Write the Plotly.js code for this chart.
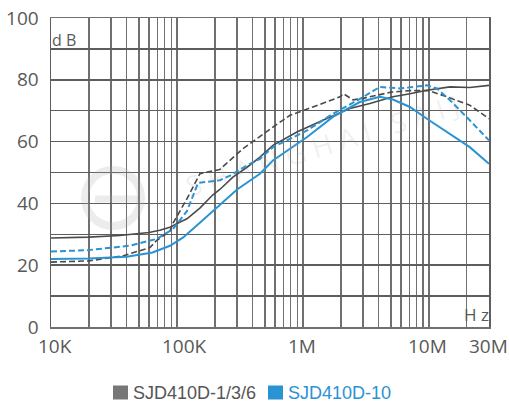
<!DOCTYPE html>
<html>
<head>
<meta charset="utf-8">
<script src="https://cdn.plot.ly/plotly-3.0.1.min.js"></script>
<style>html,body{margin:0;padding:0;background:#fff;}#chart{width:509px;height:406px;}</style>
</head>
<body>
<div id="chart"></div>
<script>
// ---- data ----
const seriesNames = ["SJD410D-1/3/6", "SJD410D-10"];

const darkSolidHz = [1e4, 2e4, 3.5e4, 4.2e4, 6e4, 7.3e4, 8.8e4, 1.06e5, 1.2e5, 1.52e5, 1.93e5, 2.19e5, 2.78e5, 3.6e5, 4.56e5, 5.78e5, 8.96e5, 1.44e6, 2.36e6, 3.4e6, 5.18e6, 7.07e6, 9.64e6, 1.47e7, 2.11e7, 3e7];
const darkSolidDb = [28.8, 29.1, 29.6, 30.0, 30.6, 31.3, 32.3, 34.0, 35.0, 38.5, 42.8, 44.5, 48.5, 51.7, 55.0, 58.8, 63.1, 66.9, 70.7, 72.3, 74.5, 75.5, 76.6, 77.7, 77.5, 78.2];

const darkDashHz = [1e4, 2e4, 3.7e4, 6.1e4, 6.9e4, 8.8e4, 9.3e4, 1.2e5, 1.52e5, 1.8e5, 2.19e5, 3e5, 3.34e5, 5.78e5, 7.89e5, 1.2e6, 1.97e6, 2.1e6, 2.5e6, 3e6, 5e6, 7e6, 1e7, 1.39e7, 2.11e7, 3e7];
const darkDashDb = [21.0, 21.4, 23.0, 25.7, 28.0, 31.0, 33.6, 41.5, 49.6, 50.3, 51.0, 56.0, 57.7, 64.7, 68.5, 71.2, 74.5, 75.5, 73.5, 74.0, 76.0, 76.5, 76.5, 74.5, 71.8, 67.4];

const blueSolidHz = [1e4, 2e4, 4e4, 6.4e4, 8.8e4, 1.12e5, 1.52e5, 2.08e5, 3e5, 4.56e5, 5.78e5, 1.08e6, 1.73e6, 2.83e6, 4.08e6, 5.18e6, 7.07e6, 9.64e6, 1.39e7, 2.11e7, 3e7];
const blueSolidDb = [22.0, 22.2, 22.7, 24.1, 26.3, 29.0, 33.7, 38.6, 44.5, 49.6, 53.9, 61.5, 68.0, 72.8, 74.5, 73.6, 71.2, 67.4, 63.1, 58.2, 52.8];

const blueDashHz = [1e4, 2e4, 4.2e4, 6.9e4, 9.3e4, 1.2e5, 1.47e5, 1.93e5, 2.19e5, 2.64e5, 3.6e5, 4.56e5, 5.78e5, 1.08e6, 1.73e6, 2.83e6, 4.08e6, 5.89e6, 9.64e6, 1.16e7, 1.47e7, 2.11e7, 3e7];
const blueDashDb = [24.4, 24.9, 26.3, 28.5, 31.7, 37.5, 46.6, 47.2, 47.5, 49.0, 52.3, 54.4, 58.2, 63.6, 69.0, 73.8, 77.7, 77.2, 78.2, 77.2, 73.4, 66.9, 60.4];

const xTickValues = [1e4, 1e5, 1e6, 1e7, 3e7];
const xTickLabels = ["10K", "100K", "1M", "10M", "30M"];
const yTickValues = [0, 10, 20, 30, 40, 50, 60, 70, 80, 90, 100];
const yTickLabels = ["0", "", "20", "", "40", "", "60", "", "80", "", "100"];

// ---- styling ----
const DARK = "#4a4a4a";
const BLUE = "#2a93d3";
const GRID = "#707070";
const TXT = "#595959";

// vertical grid at every 1..9 multiple of each decade
const xGridVals = [];
for (let d = 1e4; d <= 1e7; d *= 10) {
  for (let k = 1; k <= 9; k++) { if (k * d <= 3e7) xGridVals.push(k * d); }
}

const traces = [
  {x: darkSolidHz, y: darkSolidDb, mode: "lines", line: {color: DARK, width: 1.6}, showlegend: false, hoverinfo: "skip"},
  {x: darkDashHz, y: darkDashDb, mode: "lines", line: {color: DARK, width: 1.6, dash: "6px,3px"}, showlegend: false, hoverinfo: "skip"},
  {x: blueDashHz, y: blueDashDb, mode: "lines", line: {color: BLUE, width: 2, dash: "6px,3px"}, showlegend: false, hoverinfo: "skip"},
  {x: blueSolidHz, y: blueSolidDb, mode: "lines", line: {color: BLUE, width: 2}, showlegend: false, hoverinfo: "skip"}
];

const W = 509, H = 406, ML = 51, MR = 20, MT = 18, MB = 79;
const PW = W - ML - MR, PH = H - MT - MB;
const px = v => (v - ML) / PW;           // pixel -> paper x
const py = v => (H - MB - v) / PH;       // pixel -> paper y

const xShifts = [4, 8, -1, -1, -1];
const annotations = xTickValues.map((v, i) => ({
  x: Math.log10(v), xref: "x", y: 0, yref: "paper", yanchor: "middle", yshift: -18.5,
  xshift: xShifts[i], text: xTickLabels[i], showarrow: false,
  font: {family: "Open Sans", size: 19, color: TXT}
}));

annotations.push(
  {x: 0, xref: "paper", xanchor: "left", xshift: -1, y: py(40), yref: "paper", yanchor: "middle",
   text: "d B", showarrow: false, font: {family: "Open Sans", size: 16, color: TXT}},
  {x: 1, xref: "paper", xanchor: "right", xshift: 2, y: py(314), yref: "paper", yanchor: "middle",
   text: "H z", showarrow: false, font: {family: "Open Sans", size: 17, color: TXT}},
  {x: px(131), xref: "paper", xanchor: "left", y: py(392.5), yref: "paper", yanchor: "middle",
   text: seriesNames[0], showarrow: false, font: {family: "Liberation Sans", size: 18, color: "#555555"}},
  {x: px(286), xref: "paper", xanchor: "left", y: py(392.5), yref: "paper", yanchor: "middle",
   text: seriesNames[1], showarrow: false, font: {family: "Liberation Sans", size: 18, color: BLUE}},
  {x: px(322), xref: "paper", y: py(145), yref: "paper", text: "S H A N G H A I   S A I J", showarrow: false,
   textangle: -17, font: {family: "Open Sans", size: 28, color: "rgba(160,160,160,0.16)"}}
);

const shapes = [
  {type: "rect", xref: "paper", yref: "paper", x0: px(113), x1: px(128), y0: py(385.5), y1: py(399.5),
   fillcolor: "#777777", line: {width: 0}},
  {type: "rect", xref: "paper", yref: "paper", x0: px(268), x1: px(283), y0: py(385.5), y1: py(399.5),
   fillcolor: BLUE, line: {width: 0}},
  {type: "circle", xref: "paper", yref: "paper", x0: px(85), x1: px(141), y0: py(170), y1: py(226),
   fillcolor: "rgba(0,0,0,0)", line: {color: "rgba(170,170,170,0.22)", width: 8}},
  {type: "line", xref: "paper", yref: "paper", x0: px(95), x1: px(138), y0: py(199), y1: py(199),
   line: {color: "rgba(170,170,170,0.22)", width: 7}}
];

const layout = {
  width: W, height: H,
  margin: {l: ML, r: MR, t: MT, b: MB, pad: 0},
  paper_bgcolor: "#ffffff", plot_bgcolor: "#ffffff",
  showlegend: false,
  xaxis: {
    type: "log", range: [4, Math.log10(3e7)], tickmode: "array", tickvals: xGridVals,
    showticklabels: false, ticks: "", showgrid: true, gridcolor: GRID, gridwidth: 1.3,
    showline: true, mirror: true, linecolor: GRID, linewidth: 1.5, zeroline: false, fixedrange: true
  },
  yaxis: {
    range: [0, 100], tickmode: "array", tickvals: yTickValues, ticktext: yTickLabels,
    ticks: "", ticklabelstandoff: 7, showgrid: true, gridcolor: "#5e5e5e", gridwidth: 1.5,
    showline: true, mirror: true, linecolor: "#5e5e5e", linewidth: 1.5, zeroline: false,
    tickfont: {family: "Open Sans", size: 19, color: TXT}, fixedrange: true
  },
  annotations: annotations,
  shapes: shapes
};

Plotly.newPlot("chart", traces, layout, {staticPlot: true, displayModeBar: false});
</script>
</body>
</html>
